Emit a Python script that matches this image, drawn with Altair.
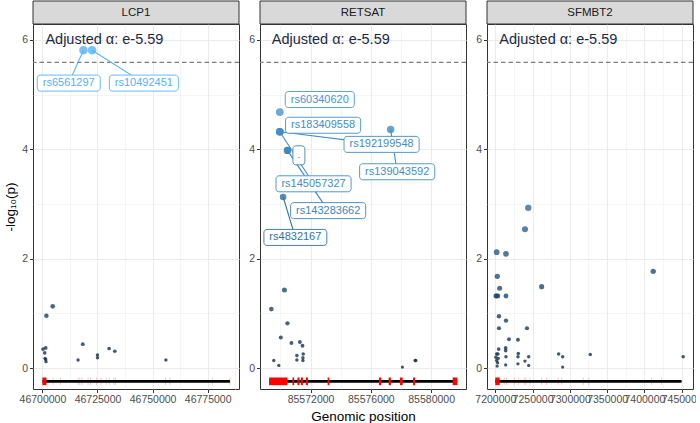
import altair as alt
import pandas as pd

GENES = ["LCP1", "RETSAT", "SFMBT2"]
THRESH = [5.59, 5.59, 5.59]
ANNOT = "Adjusted α: e-5.59"
ANNOT_X = [46701360, 85569427, 7205360]
ANNOT_Y = [6, 6, 6]

# ---- association points (-log10 p) ----
lcp1_pos = [46704680, 46701800, 46700270, 46701500, 46701050, 46701200, 46701500, 46701640,
            46718320, 46716180, 46725000, 46725000, 46730270, 46732860, 46756040, 46718630, 46722540]
lcp1_logp = [1.13, 0.96, 0.35, 0.37, 0.28, 0.18, 0.16, 0.12,
             0.44, 0.15, 0.24, 0.19, 0.36, 0.31, 0.15, 5.81, 5.81]

retsat_pos = [85570267, 85569400, 85570467, 85570027, 85570733, 85571293, 85571467, 85571093, 85571513,
              85571093, 85571493, 85571493, 85569560, 85569893, 85578093, 85578980, 85578940,
              85569960, 85569960, 85569960, 85569960, 85570467, 85570467, 85570180, 85577313]
retsat_logp = [1.43, 1.08, 0.82, 0.56, 0.46, 0.48, 0.41, 0.23, 0.26,
               0.15, 0.19, 0.14, 0.14, 0.05, 0.02, 0.14, 0.14,
               4.68, 4.32, 4.32, 4.32, 3.98, 3.98, 3.13, 4.36]

sfmbt2_pos = [7244240, 7239810, 7201880, 7214340, 7202680, 7411800, 7205900, 7201880, 7203500, 7200800,
              7214340, 7262200, 7204960, 7214340, 7204960, 7242490, 7218370, 7230430, 7204560, 7213940,
              7201880, 7203500, 7213940, 7230830, 7214340, 7230430, 7244770, 7284980, 7290340, 7327350,
              7201880, 7203100, 7213940, 7230430, 7239810, 7244770, 7290340, 7202500, 7452000, 7200800,
              7204000]
sfmbt2_logp = [2.93, 2.54, 2.12, 2.09, 1.68, 1.77, 1.46, 1.32, 1.32, 1.32,
               1.32, 1.49, 0.95, 0.87, 0.73, 0.73, 0.53, 0.52, 0.35, 0.37,
               0.26, 0.26, 0.32, 0.27, 0.21, 0.21, 0.21, 0.26, 0.21, 0.25,
               0.14, 0.10, 0.06, 0.08, 0.13, 0.05, 0.02, 0.04, 0.21, 0.20,
               0.18]

# ---- labelled SNPs ----
lab_gene = ["LCP1", "LCP1", "RETSAT", "RETSAT", "RETSAT", "RETSAT", "RETSAT", "RETSAT", "RETSAT", "RETSAT"]
lab_snp = ["rs6561297", "rs10492451", "rs60340620", "rs183409558", "rs192199548", "rs139043592",
           ".", "rs145057327", "rs143283662", "rs4832167"]
lab_pos = [46718630, 46722540, 85569960, 85569960, 85569960, 85577313, 85570467, 85569960, 85570467, 85570180]
lab_logp = [5.81, 5.81, 4.68, 4.32, 4.32, 4.36, 3.98, 4.32, 3.98, 3.13]
lab_x = [46711950, 46746040, 85572613, 85572833, 85576713, 85577747, 85571227, 85572200, 85573167, 85570993]
lab_y = [5.21, 5.21, 4.91, 4.44, 4.09, 3.59, 3.89, 3.37, 2.88, 2.39]
lab_seg = [1, 1, 0, 0, 1, 1, 0, 1, 1, 1]

# ---- gene model track ----
track_start = [46700000, 85569247, 7200000]
track_end = [46785130, 85581733, 7449870]
exon_gene = ["LCP1"] + ["RETSAT"] * 11 + ["SFMBT2"]
exon_start = [46700000, 85569247, 85570800, 85571133, 85571360, 85571693, 85573133, 85576533, 85577180,
              85577933, 85578800, 85581427, 7200000]
exon_end = [46701820, 85570467, 85570913, 85571267, 85571493, 85571827, 85573247, 85576693, 85577333,
            85578113, 85578933, 85581733, 7205900]
faint_lcp1 = [46704830, 46708170, 46716200, 46716950, 46718000, 46720730, 46721800, 46724540, 46726650,
              46728920, 46730450, 46732410, 46733180, 46755900, 46757860, 46777090, 46785130]
faint_sfmbt2 = [7212060, 7215280, 7225470, 7230830, 7238880, 7241150, 7246510, 7262200, 7268900,
                7284450, 7289010, 7317960, 7325600, 7409650, 7423060]

# ---- axes ----
x_domain = [[46695730, 46789220], [85568647, 85582313], [7188900, 7465150]]
x_major = [[46700000, 46725000, 46750000, 46775000],
           [85572000, 85576000, 85580000],
           [7200000, 7250000, 7300000, 7350000, 7400000, 7450000]]
x_minor = [[46712500, 46737500, 46762500, 46787500],
           [85570000, 85574000, 85578000, 85582000],
           [7225000, 7275000, 7325000, 7375000, 7425000]]
x_step = [25000, 4000, 50000]
y_domain = [-0.38, 6.29]
y_ticks = [0, 1, 2, 3, 4, 5, 6]
TRACK_Y = -0.24
EXON_Y = [-0.31, -0.17]

PANEL_W = 206
PANEL_H = 365
FONT = "Liberation Sans"

pts = pd.concat([
    pd.DataFrame({"gene": "LCP1", "pos": lcp1_pos, "logp": lcp1_logp}),
    pd.DataFrame({"gene": "RETSAT", "pos": retsat_pos, "logp": retsat_logp}),
    pd.DataFrame({"gene": "SFMBT2", "pos": sfmbt2_pos, "logp": sfmbt2_logp}),
], ignore_index=True)
labs = pd.DataFrame({"gene": lab_gene, "snp": lab_snp, "pos": lab_pos, "logp": lab_logp,
                     "lx": lab_x, "ly": lab_y, "seg": lab_seg})
labs["n"] = labs["snp"].str.len()
exons = pd.DataFrame({"gene": exon_gene, "start": exon_start, "end": exon_end})
faint = pd.concat([
    pd.DataFrame({"gene": "LCP1", "pos": faint_lcp1}),
    pd.DataFrame({"gene": "SFMBT2", "pos": faint_sfmbt2}),
], ignore_index=True)

cscale = alt.Scale(domain=[0, 5.81], range=["#132B43", "#56B1F7"], interpolate="lab")
sscale = alt.Scale(domain=[0, 5.81], range=[10, 72])


def cond(test, a, b):
    return {"condition": {"test": test, "value": a}, "value": b}


def panel(i, g):
    xtest = f"datum.value % {x_step[i]} === 0"
    xaxis = alt.Axis(values=sorted(x_major[i] + x_minor[i]), format="d",
                     labelExpr=f"{xtest} ? datum.label : ''",
                     tickOpacity=cond(xtest, 1, 0), gridWidth=cond(xtest, 1.0, 0.5),
                     labelFlush=False, labelOverlap=False,
                     title="Genomic position" if i == 1 else None)
    ytest = "datum.value % 2 === 0"
    yaxis = alt.Axis(values=y_ticks, labelExpr=f"{ytest} ? datum.label : ''",
                     tickOpacity=cond(ytest, 1, 0), gridWidth=cond(ytest, 1.0, 0.5),
                     minExtent=12, maxExtent=12,
                     title="-log₁₀(p)" if i == 0 else None)
    xs = alt.Scale(domain=x_domain[i], nice=False, zero=False)
    ys = alt.Scale(domain=y_domain, nice=False, zero=False)

    def X(f):
        return alt.X(f, type="quantitative", scale=xs, axis=xaxis)

    def Y(f):
        return alt.Y(f, type="quantitative", scale=ys, axis=yaxis)

    p_df = pts[pts.gene == g]
    l_df = labs[labs.gene == g]
    e_df = exons[exons.gene == g].assign(y0=EXON_Y[0], y1=EXON_Y[1])
    f_df = faint[faint.gene == g].assign(y0=EXON_Y[0], y1=EXON_Y[1])
    t_df = pd.DataFrame({"start": [track_start[i]], "end": [track_end[i]], "y": [TRACK_Y]})
    a_df = pd.DataFrame({"ax": [ANNOT_X[i]], "ay": [ANNOT_Y[i]], "txt": [ANNOT], "th": [THRESH[i]], "gene": [g]})

    layers = []
    strip = alt.Chart(a_df).mark_rect(fill="#d9d9d9", stroke="#333333", strokeWidth=1).encode(
        x=alt.value(0), x2=alt.value(PANEL_W), y=alt.value(-23), y2=alt.value(0))
    strip_t = alt.Chart(a_df).mark_text(font=FONT, fontSize=11.5, color="#1a1a1a").encode(
        x=alt.value(PANEL_W / 2), y=alt.value(-11.5), text="gene:N")
    thr = alt.Chart(a_df).mark_rule(color="#7f7f7f", strokeDash=[4.5, 3], strokeWidth=1.2).encode(y=Y("th"))
    layers += [thr]
    if len(f_df):
        layers.append(alt.Chart(f_df).mark_rule(color="#ff0000", opacity=0.22, strokeWidth=1).encode(
            x=X("pos"), y=Y("y0"), y2="y1"))
    layers.append(alt.Chart(t_df).mark_rule(color="black", strokeWidth=2.7).encode(
        x=X("start"), x2="end", y=Y("y")))
    layers.append(alt.Chart(e_df).mark_rect(color="#ff0000").encode(
        x=X("start"), x2="end", y=Y("y0"), y2="y1"))
    layers.append(alt.Chart(a_df).mark_text(font=FONT, fontSize=14.5, color="#1b2a41", align="left",
                                            baseline="middle").encode(x=X("ax"), y=Y("ay"), text="txt:N"))
    layers.append(alt.Chart(p_df).mark_circle(opacity=0.8).encode(
        x=X("pos"), y=Y("logp"),
        color=alt.Color("logp:Q", scale=cscale, legend=None),
        size=alt.Size("logp:Q", scale=sscale, legend=None)))
    if len(l_df):
        s_df = l_df[l_df.seg == 1]
        layers.append(alt.Chart(s_df).mark_rule(strokeWidth=1.1).encode(
            x=X("pos"), y=Y("logp"), x2="lx", y2="ly",
            color=alt.Color("logp:Q", scale=cscale, legend=None)))
        for n in sorted(l_df.n.unique()):
            sub = l_df[l_df.n == n]
            w = 12 if n == 1 else 6.1 * n + 8
            h = 19 if n == 1 else 16
            layers.append(alt.Chart(sub).mark_rect(fill="white", strokeWidth=0.9, cornerRadius=3,
                                                   xOffset=-w / 2, x2Offset=w / 2,
                                                   yOffset=-h / 2, y2Offset=h / 2).encode(
                x=X("lx"), x2="lx", y=Y("ly"), y2="ly",
                stroke=alt.Stroke("logp:Q", scale=cscale, legend=None)))
        layers.append(alt.Chart(l_df).mark_text(font=FONT, fontSize=11, baseline="middle").encode(
            x=X("lx"), y=Y("ly"), text="snp:N",
            color=alt.Color("logp:Q", scale=cscale, legend=None)))
    layers += [strip, strip_t]
    return alt.layer(*layers).properties(width=PANEL_W, height=PANEL_H)


panels = [panel(i, g) for i, g in enumerate(GENES)]
chart = alt.hconcat(*panels, spacing=6).resolve_scale(x="independent", y="independent").properties(
    padding={"left": 2, "top": 0, "right": -7, "bottom": 0}, background="white")
chart = chart.configure_view(stroke="#333333", strokeWidth=1).configure_axis(
    domain=False, tickColor="#333333", tickSize=3.5, tickWidth=1, labelColor="#4d4d4d",
    labelFontSize=10.5, labelFont=FONT, labelPadding=2, gridColor="#ebebeb",
    titleFont=FONT, titleFontSize=13.5, titleFontWeight="normal", titleColor="#000000", titlePadding=4)

chart.save("out.html", embed_options={"renderer": "svg", "actions": False})
